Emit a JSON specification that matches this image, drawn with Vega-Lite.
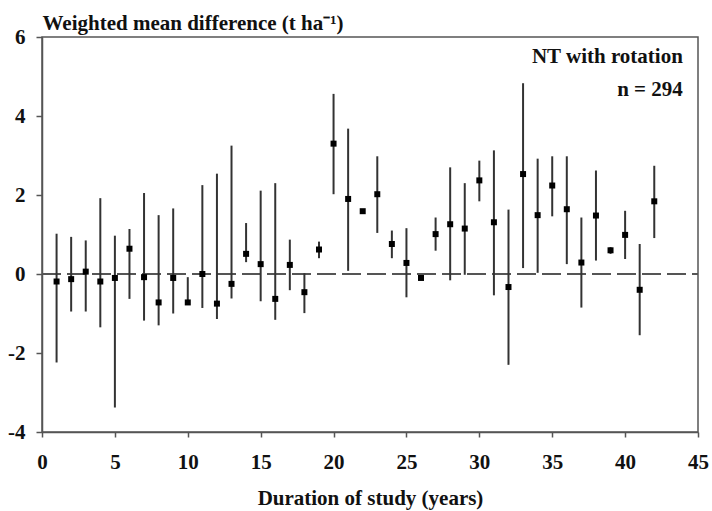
{
  "$schema": "https://vega.github.io/schema/vega-lite/v6.json",
  "width": 656,
  "height": 395,
  "autosize": {"type": "none"},
  "padding": {"left": 42, "top": 37, "right": 14, "bottom": 79},
  "background": "white",
  "config": {
    "view": {"stroke": "#555", "strokeWidth": 1.5},
    "font": "Liberation Serif",
    "axis": {
      "grid": false,
      "domainColor": "#555",
      "domainWidth": 1.5,
      "tickColor": "#555",
      "tickWidth": 1.5,
      "tickSize": 6,
      "labelFont": "Liberation Serif",
      "labelFontWeight": "bold",
      "labelFontSize": 21,
      "labelColor": "#111",
      "labelFlush": false,
      "labelOverlap": false,
      "titleFont": "Liberation Serif",
      "titleFontWeight": "bold",
      "titleFontSize": 21,
      "titleColor": "#111"
    }
  },
  "data": {
    "values": [
      {"year": 1, "mean": -0.19, "lo": -2.24, "hi": 1.02},
      {"year": 2, "mean": -0.13, "lo": -0.95, "hi": 0.94},
      {"year": 3, "mean": 0.06, "lo": -0.95, "hi": 0.85},
      {"year": 4, "mean": -0.19, "lo": -1.35, "hi": 1.92},
      {"year": 5, "mean": -0.10, "lo": -3.38, "hi": 0.97},
      {"year": 6, "mean": 0.64, "lo": -0.63, "hi": 1.14},
      {"year": 7, "mean": -0.08, "lo": -1.18, "hi": 2.05},
      {"year": 8, "mean": -0.72, "lo": -1.30, "hi": 1.49},
      {"year": 9, "mean": -0.10, "lo": -1.00, "hi": 1.66},
      {"year": 10, "mean": -0.72, "lo": -0.78, "hi": -0.08},
      {"year": 11, "mean": 0.00, "lo": -0.86, "hi": 2.25},
      {"year": 12, "mean": -0.75, "lo": -1.14, "hi": 2.54},
      {"year": 13, "mean": -0.25, "lo": -0.62, "hi": 3.25},
      {"year": 14, "mean": 0.51, "lo": 0.30, "hi": 1.29},
      {"year": 15, "mean": 0.25, "lo": -0.69, "hi": 2.11},
      {"year": 16, "mean": -0.63, "lo": -1.16, "hi": 2.30},
      {"year": 17, "mean": 0.23, "lo": -0.41, "hi": 0.87},
      {"year": 18, "mean": -0.46, "lo": -0.99, "hi": 0.02},
      {"year": 19, "mean": 0.62, "lo": 0.40, "hi": 0.82},
      {"year": 20, "mean": 3.30, "lo": 2.02, "hi": 4.56},
      {"year": 21, "mean": 1.90, "lo": 0.08, "hi": 3.68},
      {"year": 22, "mean": 1.59, "lo": 1.55, "hi": 1.63},
      {"year": 23, "mean": 2.02, "lo": 1.04, "hi": 2.98},
      {"year": 24, "mean": 0.76, "lo": 0.40, "hi": 1.10},
      {"year": 25, "mean": 0.28, "lo": -0.59, "hi": 1.16},
      {"year": 26, "mean": -0.10, "lo": -0.13, "hi": -0.07},
      {"year": 27, "mean": 1.01, "lo": 0.59, "hi": 1.43},
      {"year": 28, "mean": 1.26, "lo": -0.16, "hi": 2.70},
      {"year": 29, "mean": 1.15, "lo": -0.02, "hi": 2.30},
      {"year": 30, "mean": 2.37, "lo": 1.84, "hi": 2.87},
      {"year": 31, "mean": 1.31, "lo": -0.54, "hi": 3.13},
      {"year": 32, "mean": -0.33, "lo": -2.30, "hi": 1.63},
      {"year": 33, "mean": 2.53, "lo": 0.15, "hi": 4.83},
      {"year": 34, "mean": 1.49, "lo": 0.03, "hi": 2.92},
      {"year": 35, "mean": 2.24, "lo": 1.46, "hi": 2.98},
      {"year": 36, "mean": 1.64, "lo": 0.25, "hi": 2.98},
      {"year": 37, "mean": 0.29, "lo": -0.85, "hi": 1.43},
      {"year": 38, "mean": 1.48, "lo": 0.34, "hi": 2.62},
      {"year": 39, "mean": 0.60, "lo": 0.51, "hi": 0.68},
      {"year": 40, "mean": 0.99, "lo": 0.38, "hi": 1.60},
      {"year": 41, "mean": -0.40, "lo": -1.55, "hi": 0.76},
      {"year": 42, "mean": 1.84, "lo": 0.91, "hi": 2.74}
    ]
  },
  "encoding": {
    "x": {
      "field": "year", "type": "quantitative",
      "scale": {"domain": [0, 45], "nice": false, "zero": false},
      "axis": {"values": [0, 5, 10, 15, 20, 25, 30, 35, 40, 45], "title": "Duration of study (years)", "tickSize": 5, "labelPadding": 14, "titlePadding": 15}
    }
  },
  "layer": [
    {
      "mark": {"type": "rule", "color": "#555", "strokeWidth": 2, "strokeDash": [19, 6]},
      "encoding": {"x": {"datum": 0}, "x2": {"datum": 45}, "y": {"datum": 0, "type": "quantitative", "scale": {"domain": [-4, 6], "nice": false}}}
    },
    {
      "mark": {"type": "rule", "color": "#333", "strokeWidth": 2},
      "encoding": {
        "y": {
          "field": "lo", "type": "quantitative",
          "scale": {"domain": [-4, 6], "nice": false},
          "axis": {"values": [-4, -2, 0, 2, 4, 6], "labelExpr": "'' + datum.value", "title": "Weighted mean difference (t ha⁻¹)", "titleAngle": 0, "titleAlign": "left", "titleBaseline": "alphabetic", "titleX": 0, "titleY": -8, "labelPadding": 11}
        },
        "y2": {"field": "hi"}
      }
    },
    {
      "mark": {"type": "square", "color": "black", "filled": true, "size": 36, "opacity": 1},
      "encoding": {"y": {"field": "mean", "type": "quantitative"}}
    },
    {
      "data": {"values": [{"tx": 43.96, "ty": 5.50, "label": "NT with rotation"}, {"tx": 43.96, "ty": 4.67, "label": "n = 294"}]},
      "mark": {"type": "text", "align": "right", "baseline": "middle", "font": "Liberation Serif", "fontWeight": "bold", "fontSize": 21, "color": "#111"},
      "encoding": {"x": {"field": "tx", "type": "quantitative"}, "y": {"field": "ty", "type": "quantitative"}, "text": {"field": "label"}}
    }
  ]
}
